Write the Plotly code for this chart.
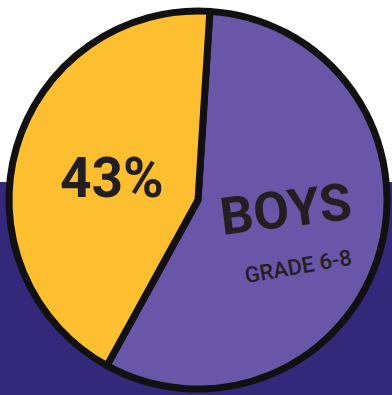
import plotly.graph_objects as go

# Data
labels = ["BOYS", "43%"]
values = [57, 43]
colors = ["#6A56A9", "#FDBE30"]
pct_text = "43%"
title_text = "BOYS"
subtitle_text = "GRADE 6-8"

W, H = 392, 395
fig = go.Figure()

fig.add_trace(go.Pie(
    labels=labels,
    values=values,
    sort=False,
    direction="clockwise",
    rotation=3.6,
    marker=dict(colors=colors, line=dict(color="#111111", width=7)),
    textinfo="none",
    hoverinfo="label+percent",
    showlegend=False,
    domain=dict(x=[9 / W, 387 / W], y=[4 / H, 1 - 9 / H]),
))

fig.add_shape(type="rect", xref="paper", yref="paper",
              x0=0, x1=1, y0=0, y1=1 - 182 / H,
              fillcolor="#33287A", line=dict(width=0), layer="below")

font_family = "Roboto"
fig.add_annotation(x=112 / W, y=1 - 178 / H, xref="paper", yref="paper",
                   xanchor="center", yanchor="middle",
                   text=pct_text, showarrow=False,
                   font=dict(family=font_family, size=55, weight=700, color="#231F20"))
fig.add_annotation(x=286 / W, y=1 - 210 / H, xref="paper", yref="paper",
                   xanchor="center", yanchor="middle",
                   text=title_text, showarrow=False, textangle=-7,
                   font=dict(family=font_family, size=52, weight=700, color="#231F20"))
fig.add_annotation(x=298 / W, y=1 - 266 / H, xref="paper", yref="paper",
                   xanchor="center", yanchor="middle",
                   text=subtitle_text, showarrow=False, textangle=-10,
                   font=dict(family=font_family, size=22, weight=500, color="#231F20"))

fig.update_layout(width=W, height=H, margin=dict(l=0, r=0, t=0, b=0),
                  paper_bgcolor="white", plot_bgcolor="white")
fig.write_html("out.html")
